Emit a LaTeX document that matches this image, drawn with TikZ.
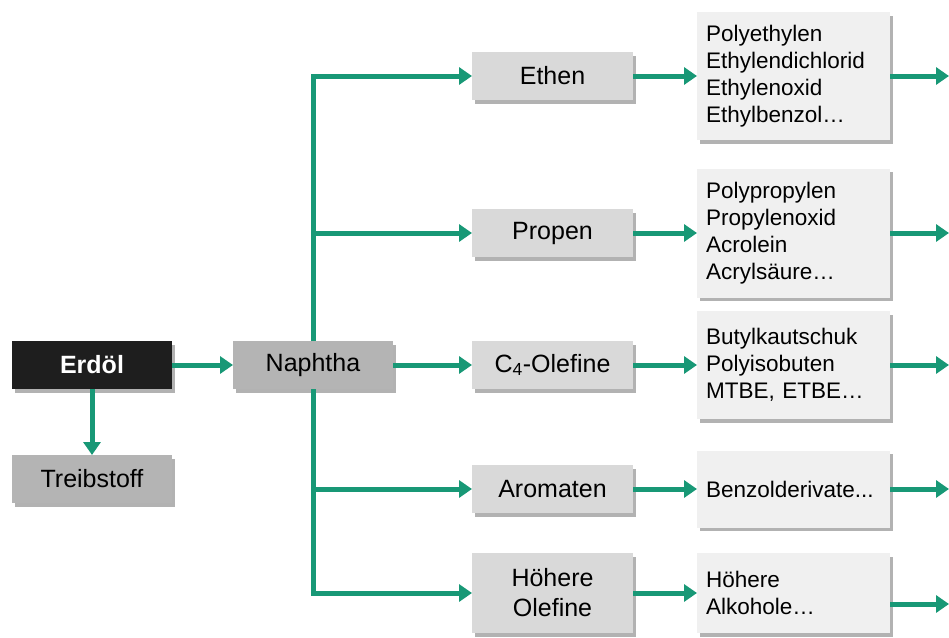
\documentclass[tikz,border=0pt]{standalone}
\usepackage{fontspec}
\setmainfont{Liberation Sans}
\usetikzlibrary{arrows.meta,positioning,shadows}
\definecolor{flowgreen}{RGB}{24,152,118}
\definecolor{crudefill}{RGB}{30,30,30}
\definecolor{cutfill}{RGB}{180,180,180}
\definecolor{midfill}{RGB}{217,217,217}
\definecolor{listfill}{RGB}{240,240,240}
\tikzset{
  node distance=0pt,
  >={Triangle[length=13pt,width=17pt]},
  every node/.style={outer sep=0pt,inner sep=0pt}
}
\tikzset{boxshadow/.style={
    drop shadow={shadow xshift=3pt,shadow yshift=-3.5pt,fill=black!55,opacity=.55}
  }}
\tikzset{stage/.style={
    boxshadow,
    fill=#1,
    minimum width=160pt,
    minimum height=48pt,
    align=center,
    font=\fontsize{25}{30}\selectfont
  },
  stage/.default=cutfill}
\tikzset{product/.style={
    boxshadow,
    fill=listfill,
    text width=175pt,
    inner xsep=9pt,
    minimum height=#1,
    align=left,
    font=\fontsize{22.5}{27}\selectfont
  },
  product/.default=80pt}
\tikzset{flow/.style={->,draw=flowgreen,line width=5pt}}

\begin{document}
\begin{tikzpicture}
  \useasboundingbox (0,0) rectangle (949pt,-637pt);

  \node (Erdoel) [stage=crudefill,text=white,font=\fontsize{25}{30}\selectfont\bfseries]
  at (92pt,-365pt) {Erdöl};
  \node (Naphtha) [stage,right=61pt of Erdoel] {Naphtha};
  \node (Treibstoff) [stage,below=66pt of Erdoel] {Treibstoff};

  \node (C4) [stage=midfill,minimum width=161pt,right=79pt of Naphtha] {C\textsubscript{4}-Olefine};
  \node (Propen) [stage=midfill,minimum width=161pt,above=84pt of C4] {Propen};
  \node (Ethen) [stage=midfill,minimum width=161pt,above=109pt of Propen] {Ethen};
  \node (Aromaten) [stage=midfill,minimum width=161pt,below=76pt of C4] {Aromaten};
  \node (Hoehere) [stage=midfill,minimum width=161pt,minimum height=80pt,below=40pt of Aromaten]
  {Höhere\\Olefine};

  \node (Ethen_list) [product=128pt,right=64pt of Ethen]
  {Polyethylen\\Ethylendichlorid\\Ethylenoxid\\Ethylbenzol…};
  \node (Propen_list) [product=129pt,right=64pt of Propen]
  {Polypropylen\\Propylenoxid\\Acrolein\\Acrylsäure…};
  \node (C4_list) [product=108pt,right=64pt of C4]
  {Butylkautschuk\\Polyisobuten\\MTBE, ETBE…};
  \node (Aromaten_list) [product=77pt,right=64pt of Aromaten] {Benzolderivate...};
  \node (Hoehere_list) [product=80pt,right=64pt of Hoehere] {Höhere\\Alkohole…};

  \coordinate (rim) at (949pt,0);

  % Erdoel
  \draw [flow] (Erdoel) -- (Naphtha);
  \draw [flow] (Erdoel) -- (Treibstoff);

  % Naphtha trunk
  \draw [flow] (Naphtha.north) |- (Ethen.west);
  \draw [flow] (Naphtha.north) |- (Propen.west);
  \draw [flow] (Naphtha) -- (C4);
  \draw [flow] (Naphtha.south) |- (Aromaten.west);
  \draw [flow] (Naphtha.south) |- (Hoehere.west);

  % to products
  \draw [flow] (Ethen) -- (Ethen_list);
  \draw [flow] (Propen) -- (Propen_list);
  \draw [flow] (C4) -- (C4_list);
  \draw [flow] (Aromaten) -- (Aromaten_list);
  \draw [flow] (Hoehere) -- (Hoehere_list);

  \draw [flow] (Ethen_list.east) -- (Ethen_list.east-|rim);
  \draw [flow] (Propen_list.east) -- (Propen_list.east-|rim);
  \draw [flow] (C4_list.east) -- (C4_list.east-|rim);
  \draw [flow] (Aromaten_list.east) -- (Aromaten_list.east-|rim);
  \draw [flow] ([yshift=-11pt] Hoehere_list.east) -- ([yshift=-11pt] Hoehere_list.east-|rim);
\end{tikzpicture}
\end{document}
